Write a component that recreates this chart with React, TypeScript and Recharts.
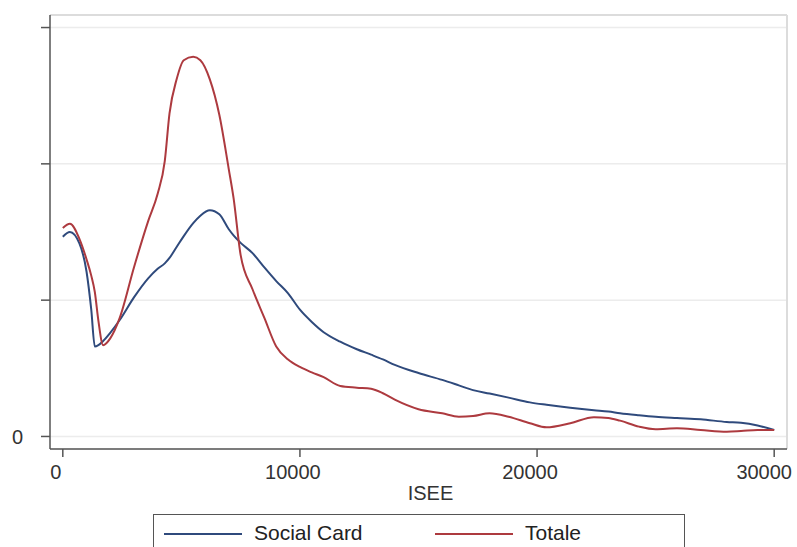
import React from "react";
import { CartesianGrid, Line, LineChart, ReferenceLine, XAxis, YAxis, Label } from "recharts";

// ISEE grid shared by both density curves
const isee = [
  0, 300, 700, 1000, 1200, 1350, 1500, 1700, 2000, 2400, 3000, 3600, 4000, 4300, 4500, 4800,
  5100, 5500, 5800, 6200, 6600, 7000, 7200, 7500, 8000, 8500, 9000, 9500, 10000, 10500, 11000,
  11700, 12400, 13000, 13500, 14000, 15000, 16000, 16700, 17300, 18000, 18800, 19700, 20400,
  21400, 22400, 23000, 23500, 24300, 25000, 25900, 26900, 28000, 28600, 29300, 30000,
];

const socialCard = [
  1.465, 1.5, 1.416, 1.21, 0.93, 0.66, 0.67, 0.7, 0.76, 0.854, 1.02, 1.16, 1.23, 1.27, 1.31, 1.39,
  1.47, 1.565, 1.62, 1.66, 1.63, 1.52, 1.475, 1.42, 1.345, 1.24, 1.14, 1.05, 0.93, 0.84, 0.765,
  0.695, 0.64, 0.6, 0.565, 0.525, 0.465, 0.415, 0.375, 0.34, 0.315, 0.285, 0.25, 0.232,
  0.21, 0.192, 0.183, 0.17, 0.155, 0.144, 0.135, 0.126, 0.106, 0.1, 0.08, 0.048,
];

const totale = [
  1.53, 1.56, 1.45, 1.3, 1.18, 1.06, 0.85, 0.67, 0.72, 0.87, 1.24, 1.58, 1.78, 2.02, 2.37, 2.62,
  2.76, 2.785, 2.76, 2.62, 2.36, 1.96, 1.75, 1.33, 1.08, 0.87, 0.66, 0.565, 0.51, 0.47, 0.435,
  0.37, 0.358, 0.35, 0.317, 0.27, 0.2, 0.17, 0.145, 0.15, 0.17, 0.145, 0.097, 0.067,
  0.097, 0.141, 0.136, 0.116, 0.072, 0.053, 0.06, 0.048, 0.035, 0.04, 0.048, 0.048,
];

const xTicks = [0, 10000, 20000, 30000];
const yTicks = [0, 1, 2, 3];

const X_DOMAIN: [number, number] = [-540, 30540];
const Y_DOMAIN: [number, number] = [-0.092, 3.092];

const NAVY = "#2f4a7c";
const MAROON = "#ad3a3f";
const AXIS = "#555";
const TEXT = "#333";
const FONT = "'Liberation Sans', Arial, sans-serif";

const data = isee.map((x, i) => ({ x, social: socialCard[i], totale: totale[i] }));

// x tick labels sit a bit left of their ticks, the last one more so it fits in the frame
const XTick = (props: any) => {
  const { x, y, payload } = props;
  const shift = payload.value === 30000 ? -10 : -7;
  return (
    <text x={x + shift} y={y} dy="0.71em" textAnchor="middle" fontSize={20} fill={TEXT} fontFamily={FONT}>
      {payload.value}
    </text>
  );
};

function LegendBox() {
  const item = (left: number, color: string, text: string, textLeft: number) => (
    <>
      <div style={{ position: "absolute", left, top: 18, width: 78, height: 2, background: color }} />
      <div style={{ position: "absolute", left: textLeft, top: 6, fontSize: 21, lineHeight: "24px", color: "#222" }}>
        {text}
      </div>
    </>
  );
  return (
    <div
      style={{
        position: "absolute",
        left: 153,
        top: 514,
        width: 530,
        height: 50,
        border: `1.5px solid ${AXIS}`,
        background: "#fff",
        fontFamily: FONT,
      }}
    >
      {item(10, NAVY, "Social Card", 100)}
      {item(281, MAROON, "Totale", 371)}
    </div>
  );
}

export default function App() {
  return (
    <div style={{ position: "fixed", left: 0, top: 0, width: 797, height: 547, overflow: "hidden", background: "#fff" }}>
      <LineChart width={797} height={547} data={data} margin={{ top: 15, right: 10, bottom: 47, left: 0 }}>
        <CartesianGrid vertical={false} stroke="#ececec" strokeWidth={1.5} />
        <ReferenceLine y={Y_DOMAIN[1]} stroke="#dcdcdc" strokeWidth={2} />
        <ReferenceLine x={X_DOMAIN[1]} stroke="#dcdcdc" strokeWidth={2} />
        <XAxis
          dataKey="x"
          type="number"
          domain={X_DOMAIN}
          ticks={xTicks}
          height={51}
          tickSize={8}
          tickMargin={8}
          stroke={AXIS}
          strokeWidth={1.5}
          interval={0}
          tick={<XTick />}
        >
          <Label value="ISEE" position="insideBottom" offset={0} dx={12} style={{ fontSize: 20, fill: TEXT, fontFamily: FONT }} />
        </XAxis>
        <YAxis
          type="number"
          domain={Y_DOMAIN}
          ticks={yTicks}
          width={50}
          tickSize={9}
          tickMargin={18}
          stroke={AXIS}
          strokeWidth={1.5}
          tickFormatter={(v: number) => (v === 0 ? "0" : "")}
          tick={{ fontSize: 20, fill: TEXT, fontFamily: FONT }}
        />
        <Line type="monotone" dataKey="social" stroke={NAVY} strokeWidth={2} dot={false} isAnimationActive={false} />
        <Line type="monotone" dataKey="totale" stroke={MAROON} strokeWidth={2} dot={false} isAnimationActive={false} />
      </LineChart>
      <LegendBox />
    </div>
  );
}
